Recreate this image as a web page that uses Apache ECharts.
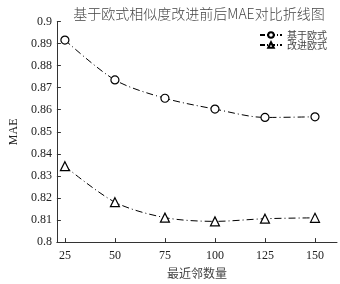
<!DOCTYPE html>
<html>
<head>
<meta charset="utf-8">
<script src="https://cdn.jsdelivr.net/npm/echarts@6/dist/echarts.min.js"></script>
<style>
  html, body { margin: 0; padding: 0; background: #fff; }
  #chart { width: 340px; height: 284px; }
</style>
</head>
<body>
<div id="chart"></div>
<script>
// 数据
const neighbors = [25, 50, 75, 100, 125, 150]
const baseMae = [0.8916, 0.8735, 0.8652, 0.8603, 0.8565, 0.8568]
const improvedMae = [0.8344, 0.8181, 0.8111, 0.8094, 0.8106, 0.8110]
const seriesNames = ['基于欧式', '改进欧式']

const serif = '"Liberation Serif", "DejaVu Serif", serif'
const cjk = '"Noto Sans CJK SC", sans-serif'

const lineStyle = { color: '#000', width: 1, type: [7, 3, 1, 3] }
const markStyle = { color: '#fff', borderColor: '#000', borderWidth: 1.2 }

const option = {
  animation: false,
  title: {
    text: '基于欧式相似度改进前后MAE对比折线图',
    left: 194,
    textAlign: 'center',
    top: 2,
    textStyle: { fontFamily: cjk, fontSize: 14, fontWeight: 300, color: '#444' }
  },
  legend: {
    orient: 'vertical',
    right: 8,
    top: 25,
    itemWidth: 22,
    itemHeight: 7,
    itemGap: 0,
    lineStyle: { type: [5, 2, 1, 2] },
    textStyle: { fontFamily: cjk, fontSize: 10, color: '#444', lineHeight: 9 },
    data: seriesNames
  },
  grid: { left: 49, right: 3, top: 21.5, bottom: 37 },
  xAxis: {
    type: 'value',
    min: 21,
    max: 161,
    name: '最近邻数量',
    nameLocation: 'middle',
    nameGap: 22,
    nameTextStyle: { fontFamily: cjk, fontSize: 12, color: '#444' },
    splitLine: { show: false },
    axisLine: { lineStyle: { color: '#333' } },
    axisTick: { inside: true, length: 4, customValues: neighbors, lineStyle: { color: '#333' } },
    axisLabel: { customValues: neighbors, margin: 8, fontFamily: serif, fontSize: 12, color: '#222' }
  },
  yAxis: {
    type: 'value',
    min: 0.8,
    max: 0.9,
    interval: 0.01,
    name: 'MAE',
    nameLocation: 'middle',
    nameGap: 34,
    nameTextStyle: { fontFamily: serif, fontSize: 12, color: '#222' },
    splitLine: { show: false },
    axisLine: { show: true, lineStyle: { color: '#333' } },
    axisTick: { inside: true, length: 4, lineStyle: { color: '#333' } },
    axisLabel: {
      margin: 5,
      fontFamily: serif,
      fontSize: 12,
      color: '#222',
      formatter: v => String(+v.toFixed(2))
    }
  },
  series: [
    {
      name: seriesNames[0],
      type: 'line',
      data: neighbors.map((n, i) => [n, baseMae[i]]),
      smooth: 0.3,
      symbol: 'circle',
      symbolSize: 8,
      itemStyle: markStyle,
      lineStyle: lineStyle
    },
    {
      name: seriesNames[1],
      type: 'line',
      data: neighbors.map((n, i) => [n, improvedMae[i]]),
      smooth: 0.3,
      symbol: 'triangle',
      symbolSize: 9,
      itemStyle: markStyle,
      lineStyle: lineStyle
    }
  ]
}

const chart = echarts.init(document.getElementById('chart'))
chart.setOption(option)
</script>
</body>
</html>
